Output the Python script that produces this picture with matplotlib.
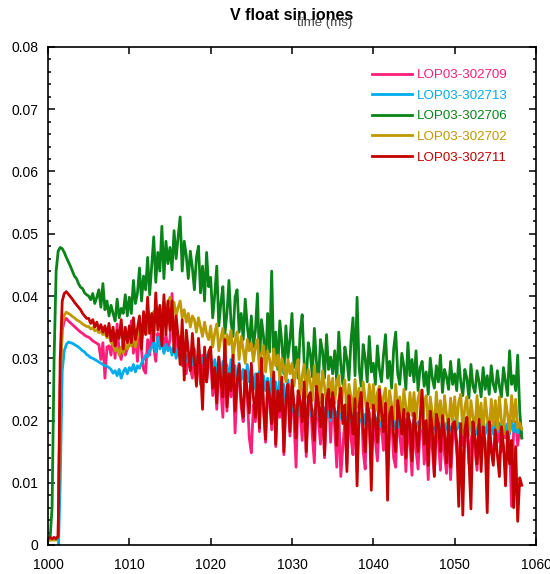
import numpy as np
import matplotlib
matplotlib.use('Agg')
import matplotlib.pyplot as plt
from matplotlib.ticker import MultipleLocator, FormatStrFormatter

plt.rcParams['font.family'] = ['Liberation Sans', 'DejaVu Sans']

# muestras cada 0.25 ms desde t0, valores en unidades de 1e-4 V
t0 = 1000.0
dt = 0.25

lop_302709 = [
    10, 12, 10, 12, 10, 14, 260, 345, 360, 364, 360, 357, 354, 351, 348, 345, 342, 340, 337, 335,
    334, 331, 328, 326, 324, 322, 298, 325, 268, 318, 320, 305, 335, 300, 355, 310, 298, 328, 305, 315,
    322, 360, 308, 338, 295, 350, 312, 282, 276, 330, 305, 345, 318, 295, 340, 325, 352, 310, 338, 315,
    330, 404, 325, 348, 305, 335, 288, 318, 275, 302, 285, 268, 315, 272, 295, 258, 305, 280, 262, 290,
    302, 240, 278, 218, 295, 250, 205, 315, 215, 268, 238, 290, 180, 255, 278, 222, 198, 272, 238, 172,
    148, 225, 198, 268, 182, 285, 215, 165, 250, 230, 185, 265, 158, 240, 205, 258, 145, 228, 248, 175,
    255, 198, 125, 240, 215, 168, 252, 142, 220, 238, 175, 132, 248, 202, 162, 228, 140, 218, 242, 165,
    235, 188, 125, 220, 110, 158, 200, 130, 230, 172, 145, 225, 118, 208, 238, 150, 122, 218, 190, 135,
    208, 168, 135, 198, 190, 152, 218, 120, 180, 205, 140, 125, 222, 175, 145, 200, 118, 188, 165, 112,
    198, 152, 122, 185, 208, 130, 175, 105, 198, 155, 112, 192, 168, 120, 190, 145, 115, 182, 105, 170,
    185, 150, 128, 188, 160, 175, 192, 130, 168, 185, 152, 120, 195, 162, 180, 148, 130, 190, 158, 140,
    188, 165, 192, 150, 182, 172, 195, 158, 62, 185, 198, 160, 188, 172,
]

lop_302713 = [
    -20, -20, -20, -20, -20, -20, 100, 280, 312, 322, 326, 325, 324, 322, 320, 318, 315, 312, 310, 306,
    304, 301, 300, 298, 296, 294, 292, 290, 288, 287, 285, 282, 276, 280, 272, 282, 268, 278, 284, 275,
    285, 280, 290, 278, 288, 284, 292, 298, 305, 302, 312, 318, 325, 310, 334, 315, 328, 308, 322, 312,
    318, 305, 322, 300, 315, 308, 298, 312, 295, 305, 300, 290, 308, 295, 302, 288, 300, 292, 305, 285,
    305, 278, 298, 272, 302, 268, 295, 275, 290, 262, 298, 270, 288, 258, 292, 265, 282, 255, 290, 262,
    282, 250, 275, 245, 280, 240, 272, 248, 268, 236, 275, 242, 262, 232, 268, 238, 258, 230, 265, 235,
    228, 212, 225, 208, 226, 210, 220, 205, 224, 208, 218, 202, 222, 206, 216, 200, 220, 204, 214, 200,
    218, 202, 214, 198, 216, 200, 210, 196, 214, 198, 208, 194, 212, 196, 206, 192, 210, 195, 204, 190,
    208, 194, 205, 190, 206, 192, 202, 188, 205, 190, 200, 186, 204, 188, 198, 185, 202, 188, 196, 184,
    202, 188, 198, 185, 200, 186, 196, 182, 200, 185, 194, 180, 198, 184, 192, 180, 196, 182, 190, 178,
    200, 185, 196, 182, 198, 184, 194, 180, 198, 184, 192, 178, 196, 182, 190, 178, 195, 180, 192, 178,
    200, 182, 196, 180, 198, 184, 194, 178, 200, 182, 196, 180, 190, 180,
]

lop_302706 = [
    8, 8, 60, 300, 440, 472, 478, 476, 470, 462, 455, 448, 440, 432, 428, 420, 414, 412, 405, 402,
    400, 394, 404, 388, 398, 410, 382, 420, 378, 392, 368, 385, 372, 360, 395, 365, 380, 372, 402, 368,
    398, 372, 425, 388, 405, 445, 392, 432, 410, 462, 402, 448, 495, 422, 470, 440, 512, 428, 488, 452,
    478, 442, 505, 460, 495, 527, 440, 488, 465, 428, 472, 445, 410, 462, 480, 405, 448, 392, 470, 415,
    430, 365, 402, 448, 352, 388, 415, 340, 372, 425, 358, 335, 398, 410, 342, 372, 330, 395, 352, 322,
    368, 318, 345, 404, 292, 362, 335, 285, 372, 310, 440, 298, 342, 282, 360, 325, 275, 352, 300, 330,
    372, 285, 318, 268, 342, 370, 292, 262, 325, 308, 270, 348, 295, 262, 330, 312, 268, 338, 282, 302,
    275, 312, 262, 342, 290, 258, 318, 298, 265, 328, 365, 272, 398, 285, 255, 322, 300, 262, 335, 278,
    292, 258, 320, 282, 262, 305, 338, 268, 295, 252, 315, 342, 275, 258, 308, 288, 250, 325, 272, 298,
    262, 312, 248, 285, 295, 255, 278, 242, 300, 268, 252, 288, 262, 305, 245, 282, 270, 250, 295, 258,
    275, 248, 298, 262, 240, 282, 268, 236, 290, 255, 245, 280, 262, 238, 285, 250, 272, 242, 288, 258,
    246, 280, 255, 238, 285, 262, 240, 312, 258, 272, 248, 305, 215, 172,
]

lop_302702 = [
    8, 8, 8, 8, 8, 15, 250, 355, 369, 374, 372, 370, 367, 365, 362, 360, 358, 355, 353, 351,
    351, 347, 349, 344, 346, 341, 343, 338, 340, 333, 336, 326, 322, 312, 316, 305, 318, 308, 322, 315,
    328, 320, 342, 318, 335, 350, 328, 345, 358, 340, 362, 352, 375, 358, 368, 382, 365, 392, 375, 388,
    398, 375, 390, 368, 382, 392, 365, 378, 358, 372, 350, 368, 362, 342, 365, 350, 335, 358, 340, 330,
    352, 318, 340, 355, 312, 332, 348, 305, 338, 322, 345, 300, 328, 342, 298, 335, 315, 292, 330, 312,
    325, 295, 318, 330, 282, 308, 320, 278, 312, 298, 270, 315, 288, 305, 265, 300, 285, 262, 298, 275,
    292, 255, 285, 298, 240, 272, 290, 238, 282, 262, 232, 288, 250, 275, 228, 280, 255, 225, 272, 242,
    268, 228, 262, 272, 215, 250, 265, 210, 258, 238, 212, 266, 222, 252, 205, 262, 235, 208, 258, 220,
    258, 215, 245, 255, 200, 238, 252, 196, 248, 225, 202, 258, 212, 238, 192, 250, 222, 198, 245, 208,
    245, 202, 236, 248, 188, 228, 240, 185, 238, 212, 192, 246, 200, 232, 182, 240, 210, 188, 236, 198,
    238, 192, 230, 242, 180, 222, 238, 176, 232, 205, 185, 240, 195, 228, 175, 236, 205, 180, 234, 192,
    232, 185, 238, 200, 178, 234, 210, 182, 240, 198, 234, 188, 196, 186,
]

lop_302711 = [
    10, 12, 10, 12, 10, 14, 300, 392, 404, 407, 403, 399, 395, 390, 386, 382, 378, 372, 368, 364,
    364, 356, 362, 350, 358, 346, 354, 342, 352, 336, 356, 328, 350, 320, 345, 332, 362, 315, 350, 325,
    352, 325, 365, 330, 348, 368, 315, 375, 338, 398, 340, 372, 328, 405, 345, 385, 320, 402, 338, 392,
    345, 392, 310, 368, 335, 290, 362, 265, 345, 312, 280, 340, 298, 255, 332, 285, 218, 318, 262, 310,
    318, 252, 285, 228, 302, 265, 238, 330, 222, 275, 248, 305, 215, 262, 290, 232, 205, 280, 245, 212,
    292, 238, 205, 275, 188, 300, 225, 170, 262, 240, 195, 278, 162, 248, 215, 270, 150, 235, 258, 182,
    265, 225, 172, 248, 232, 198, 262, 150, 238, 245, 205, 168, 255, 228, 190, 242, 145, 235, 250, 205,
    245, 215, 160, 232, 252, 195, 225, 118, 240, 210, 178, 235, 95, 222, 245, 188, 150, 228, 212, 88,
    225, 198, 165, 250, 215, 182, 228, 72, 210, 222, 175, 150, 232, 205, 178, 218, 140, 212, 195, 135,
    212, 185, 150, 205, 249, 162, 200, 128, 215, 188, 110, 210, 195, 150, 208, 178, 132, 202, 125, 195,
    198, 165, 62, 195, 48, 185, 205, 140, 58, 198, 172, 130, 202, 118, 190, 165, 52, 198, 150, 128,
    185, 145, 110, 190, 160, 95, 182, 130, 168, 60, 158, 38, 108, 96,
]

labels = ['LOP03-302709', 'LOP03-302713', 'LOP03-302706', 'LOP03-302702', 'LOP03-302711']
colors = ['#ff1f7a', '#00acec', '#0a8418', '#c09800', '#c40000']
series = [lop_302709, lop_302713, lop_302706, lop_302702, lop_302711]

fig = plt.figure(figsize=(5.5, 5.74), dpi=100)
ax = fig.add_axes([48/550, 29/574, 488/550, 498/574])

for vals, lab, col in zip(series, labels, colors):
    v = np.array(vals) * 1e-4
    t = t0 + dt * np.arange(len(v))
    ax.plot(t, v, color=col, lw=2.0, label=lab)

ax.set_xlim(1000, 1060)
ax.set_ylim(0, 0.08)
ax.xaxis.set_major_locator(MultipleLocator(10))
ax.yaxis.set_major_locator(MultipleLocator(0.01))
ax.yaxis.set_minor_locator(MultipleLocator(0.002))
ax.yaxis.set_major_formatter(FormatStrFormatter('%g'))
ax.tick_params(which='both', direction='in', top=True, right=True, width=1.1, labelsize=10)
ax.tick_params(which='major', length=4.8)
ax.tick_params(which='minor', length=2.4)
ax.tick_params(axis='y', pad=7)
ax.tick_params(axis='x', pad=9.5)
for s in ax.spines.values():
    s.set_linewidth(1.2)

leg = ax.legend(loc='upper left', bbox_to_anchor=(0.664, 0.956), frameon=False,
                fontsize=9.6, labelcolor='linecolor', handlelength=3.0,
                handletextpad=0.4, borderpad=0, borderaxespad=0, labelspacing=0.62)

fig.text(292/550, 1 - 16/574, 'V float sin iones', ha='center', va='center',
         fontsize=11.5, fontweight='bold')
fig.text(325/550, 1 - 23/574, 'time (ms)', ha='center', va='center',
         fontsize=9.5, color='#444444')

plt.savefig('out.png', dpi=100)
